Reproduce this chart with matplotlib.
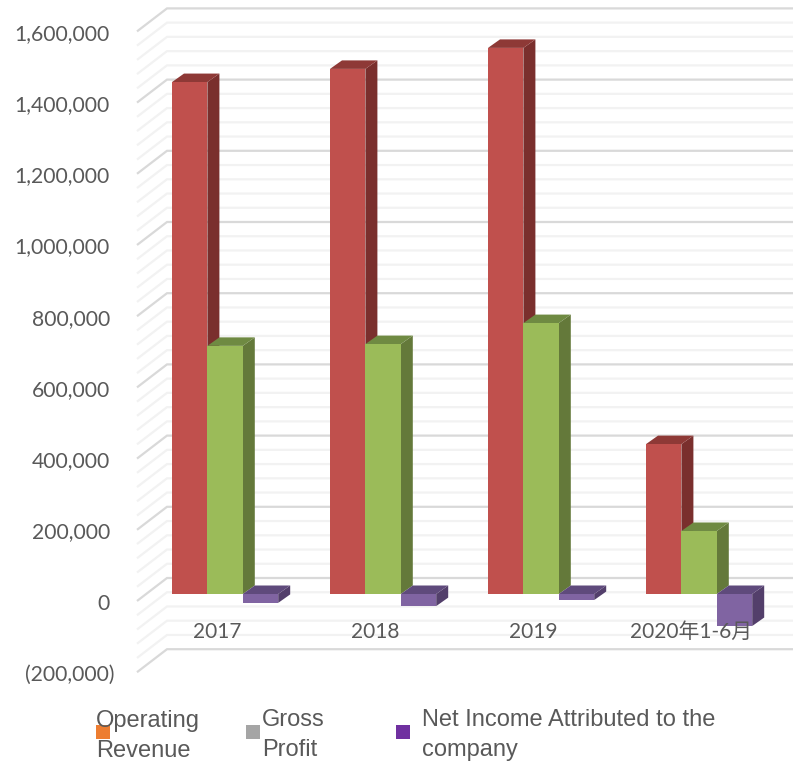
import matplotlib

matplotlib.use("Agg")

import matplotlib.pyplot as plt
from matplotlib.patches import Polygon, Rectangle

categories = ["2017", "2018", "2019", "2020年1-6月"]
operating_revenue = [1438000, 1475000, 1534000, 421000]
gross_profit = [697000, 702000, 761000, 177000]
net_income = [-25000, -34000, -17000, -90000]

major_ticks = [1600000, 1400000, 1200000, 1000000, 800000, 600000, 400000, 200000, 0, -200000]
tick_labels = ["1,600,000", "1,400,000", "1,200,000", "1,000,000", "800,000", "600,000", "400,000", "200,000", "0", "(200,000)"]
grid_step = 40000

legend_labels = ["Operating\nRevenue", "Gross\nProfit", "Net Income Attributed to the\ncompany"]
legend_colors = ["#ED7D31", "#A5A5A5", "#7030A0"]
legend_x = [96, 246, 396]
legend_text_x = [96, 262, 422]
legend_text_y = [736, 735, 735]

# front, side, top face colours
red = ("#C0504D", "#7A2F2D", "#8E3936")
green = ("#9BBB59", "#64793A", "#6F8A42")
purple = ("#8064A2", "#533F6B", "#5F4A7C")

WIDTH, HEIGHT = 793, 764
X_UNIT = 158.0  # pixels per category
Y_UNIT = 356.0 / 1000000  # pixels per value unit
X_ZERO = 217.0
Y_ZERO = 594.0

BAR_W = 35.4 / X_UNIT
DEPTH_X = 12.0 / X_UNIT
DEPTH_Y = 8.5 / Y_UNIT


def from_px(px, py):
    return (px - X_ZERO) / X_UNIT, (Y_ZERO - py) / Y_UNIT


def draw_bar(ax, left, value, colors, zorder):
    low, high = min(0, value), max(0, value)
    ax.bar(left, value, width=BAR_W, align="edge", color=colors[0], zorder=zorder + 0.2)
    side = [
        (left + BAR_W, low),
        (left + BAR_W + DEPTH_X, low + DEPTH_Y),
        (left + BAR_W + DEPTH_X, high + DEPTH_Y),
        (left + BAR_W, high),
    ]
    top = [
        (left, high),
        (left + DEPTH_X, high + DEPTH_Y),
        (left + BAR_W + DEPTH_X, high + DEPTH_Y),
        (left + BAR_W, high),
    ]
    ax.add_patch(Polygon(side, closed=True, color=colors[1], lw=0, zorder=zorder))
    ax.add_patch(Polygon(top, closed=True, color=colors[2], lw=0, zorder=zorder))


def main():
    fig = plt.figure(figsize=(WIDTH / 100, HEIGHT / 100), dpi=100)
    ax = fig.add_axes([0, 0, 1, 1])
    ax.set_xlim(-X_ZERO / X_UNIT, (WIDTH - X_ZERO) / X_UNIT)
    ax.set_ylim((Y_ZERO - HEIGHT) / Y_UNIT, Y_ZERO / Y_UNIT)
    ax.axis("off")

    # back wall and left wall gridlines
    grid_x = [from_px(137, 0)[0], from_px(167, 0)[0], from_px(793, 0)[0]]
    wall_front = 7 / Y_UNIT
    wall_back = 16 / Y_UNIT
    for value in range(major_ticks[-1], major_ticks[0] + 1, grid_step):
        is_major = value in major_ticks
        ys = [value - wall_front, value + wall_back, value + wall_back]
        ax.plot(
            grid_x,
            ys,
            color="#D9D9D9" if is_major else "#F2F2F2",
            lw=1.6,
            solid_capstyle="butt",
            solid_joinstyle="miter",
            zorder=1 if is_major else 0.5,
        )

    offset = -45.0 / X_UNIT
    for i in range(len(categories)):
        draw_bar(ax, i + offset, operating_revenue[i], red, 2)
        draw_bar(ax, i + offset + BAR_W, gross_profit[i], green, 3)
        draw_bar(ax, i + offset + 2 * BAR_W, net_income[i], purple, 4)

    label_y = from_px(0, 632)[1]
    for i, name in enumerate(categories):
        ax.text(
            i,
            label_y,
            name,
            ha="center",
            va="center",
            fontsize=15,
            color="#595959",
            family=["Lato", "Noto Sans CJK SC"],
            zorder=6,
        )

    tick_shift = 2.5 / Y_UNIT
    for value, label in zip(major_ticks, tick_labels):
        # the bracketed negative label hangs a little further right
        tick_x = from_px(114 if value < 0 else 110, 0)[0]
        ax.text(
            tick_x,
            value - wall_front - tick_shift,
            label,
            ha="right",
            va="center",
            fontsize=15.2,
            color="#595959",
            family="Lato",
            zorder=6,
        )

    # legend swatches sit under the wrapped labels
    swatch_w = 14 / X_UNIT
    swatch_h = 14 / Y_UNIT
    for sx, color in zip(legend_x, legend_colors):
        x0, y0 = from_px(sx, 739)
        ax.add_patch(Rectangle((x0, y0), swatch_w, swatch_h, color=color, lw=0, zorder=5))
    for tx, ty, label in zip(legend_text_x, legend_text_y, legend_labels):
        x0, y0 = from_px(tx, ty)
        ax.text(
            x0,
            y0,
            label,
            ha="left",
            va="center",
            fontsize=17,
            linespacing=1.45,
            color="#595959",
            family="Liberation Sans",
            zorder=6,
        )

    fig.savefig("out.png", dpi=100)
    plt.close(fig)


if __name__ == "__main__":
    main()
